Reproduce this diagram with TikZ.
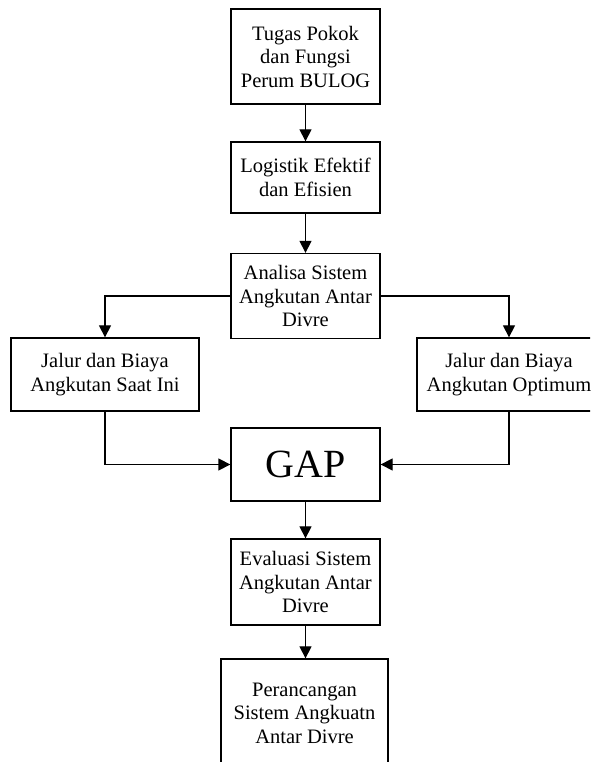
\documentclass[tikz,border=0pt]{standalone}
\usepackage{fontspec}
\setmainfont{Liberation Serif}
\usetikzlibrary{arrows.meta}
\begin{document}
\begin{tikzpicture}[x=1pt,y=1pt,
  box/.style={draw,line width=1.3pt,align=center,inner sep=0pt,
    font=\fontsize{20.5}{23.5}\selectfont},
  conn/.style={line width=1.3pt},
  arr/.style={conn,-{Triangle[width=12pt,length=12pt]}}]
\useasboundingbox (0,0) rectangle (590,762);
\clip (0,0) rectangle (590,762);
\node[box,minimum width=149pt,minimum height=95pt] (b1) at (305.5,705.5) {Tugas Pokok\\dan Fungsi\\Perum BULOG};
\node[box,minimum width=149pt,minimum height=71pt] (b2) at (305.5,584.5) {Logistik Efektif\\dan Efisien};
\node[box,minimum width=149pt,minimum height=85pt] (b3) at (305.5,466) {Analisa Sistem\\Angkutan Antar\\Divre};
\node[box,minimum width=188pt,minimum height=73pt] (l) at (105,387.5) {Jalur dan Biaya\\Angkutan Saat Ini};
\node[box,minimum width=184pt,minimum height=73pt] (r) at (509,387.5) {Jalur dan Biaya\\Angkutan Optimum};
\node[box,minimum width=149pt,minimum height=73pt,font=\fontsize{40}{44}\selectfont] (gap) at (305.5,297.5) {GAP};
\node[box,minimum width=149pt,minimum height=86pt] (ev) at (305.5,180) {Evaluasi Sistem\\Angkutan Antar\\Divre};
\node[box,minimum width=167pt,minimum height=108pt] (last) at (304.5,49) {Perancangan\\Sistem Angkuatn\\Antar Divre};
\draw[arr] (b1.south) -- (b2.north);
\draw[arr] (b2.south) -- (b3.north);
\draw[arr] (b3.west) -| (l.north);
\draw[arr] (b3.east) -| (r.north);
\draw[arr] (l.south) |- (gap.west);
\draw[arr] (r.south) |- (gap.east);
\draw[arr] (gap.south) -- (ev.north);
\draw[arr] (ev.south) -- (ev.south |- last.north);
\end{tikzpicture}
\end{document}
